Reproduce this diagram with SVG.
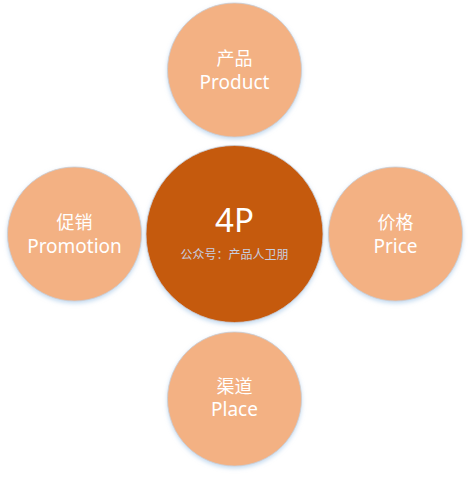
<svg xmlns="http://www.w3.org/2000/svg" width="471" height="477" viewBox="0 0 471 477">
<defs>
<filter id="sh" x="-20%" y="-20%" width="140%" height="140%">
<feDropShadow dx="0" dy="2" stdDeviation="2" flood-color="#9DC3E6" flood-opacity="0.6"/>
</filter>
<style>
.sat{fill:#F3B183;stroke:#C9CED6;stroke-width:0.8;filter:url(#sh)}
.core{fill:#C55A11;stroke:#C9CED6;stroke-width:0.8;filter:url(#sh)}
.t{font-family:"Noto Sans","Noto Sans CJK SC",sans-serif;fill:#FFFFFF;text-anchor:middle}
.cn{font-size:18px}
.en{font-size:19px}
.big{font-size:33px}
.sub{font-family:"Noto Sans CJK SC",sans-serif;font-size:12px;fill:#C8CEE0;text-anchor:middle}
</style>
</defs>
<rect width="471" height="477" fill="#FFFFFF"/>
<g id="connectors"/>
<g id="product">
<circle class="sat" cx="234.5" cy="70" r="67"/>
<text class="t cn" x="234.5" y="65">产品</text>
<text class="t en" x="234.5" y="89">Product</text>
</g>
<g id="promotion">
<circle class="sat" cx="74.5" cy="234" r="67"/>
<text class="t cn" x="74.5" y="229">促销</text>
<text class="t en" x="74.5" y="253">Promotion</text>
</g>
<g id="price">
<circle class="sat" cx="395.5" cy="234" r="67"/>
<text class="t cn" x="395.5" y="229">价格</text>
<text class="t en" x="395.5" y="253">Price</text>
</g>
<g id="place">
<circle class="sat" cx="234.5" cy="399" r="67"/>
<text class="t cn" x="234.5" y="393">渠道</text>
<text class="t en" x="234.5" y="416">Place</text>
</g>
<g id="core">
<circle class="core" cx="234.5" cy="234" r="88.5"/>
<text class="t big" x="234.5" y="232">4P</text>
<text class="sub" x="234.5" y="259">公众号：产品人卫朋</text>
</g>
</svg>
